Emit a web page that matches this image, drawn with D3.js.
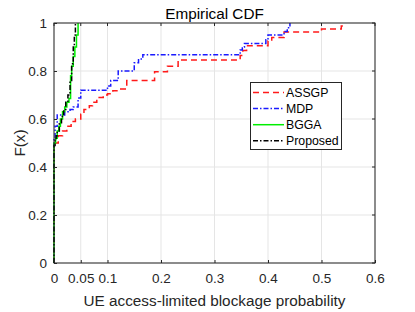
<!DOCTYPE html>
<html>
<head>
<meta charset="utf-8">
<script src="https://cdn.jsdelivr.net/npm/d3@7"></script>
<style>
  body { margin: 0; background: #fff; }
  svg { display: block; font-family: "Liberation Sans", Arial, sans-serif; }
</style>
</head>
<body>
<div id="chart"></div>
<script>
// empirical CDF steps (x = probability, F = cdf value)
const assgpX = [0, 0, 0.008, 0.016, 0.024, 0.032, 0.04, 0.05, 0.056, 0.066, 0.072, 0.08, 0.092, 0.1, 0.11, 0.12, 0.136, 0.188, 0.212, 0.232, 0.348, 0.353, 0.36, 0.4, 0.407, 0.43, 0.5, 0.537, 0.545];
const assgpF = [0, 0.5, 0.53, 0.55, 0.57, 0.59, 0.6, 0.62, 0.64, 0.655, 0.67, 0.69, 0.7, 0.705, 0.718, 0.725, 0.76, 0.797, 0.82, 0.846, 0.865, 0.885, 0.905, 0.925, 0.94, 0.962, 0.975, 0.988, 0.988];

const mdpX = [0, 0, 0.002, 0.006, 0.02, 0.03, 0.036, 0.045, 0.05, 0.088, 0.1, 0.106, 0.12, 0.15, 0.158, 0.166, 0.348, 0.352, 0.356, 0.396, 0.4, 0.43, 0.436, 0.441];
const mdpF = [0, 0.52, 0.57, 0.617, 0.63, 0.64, 0.65, 0.687, 0.72, 0.72, 0.737, 0.76, 0.8, 0.834, 0.85, 0.868, 0.888, 0.9, 0.915, 0.93, 0.95, 0.965, 0.98, 1.0];

const bggaX = [0, 0, 0.003, 0.006, 0.009, 0.012, 0.016, 0.02, 0.024, 0.028, 0.031, 0.033, 0.036, 0.039, 0.042, 0.045];
const bggaF = [0, 0.5, 0.52, 0.55, 0.57, 0.6, 0.63, 0.65, 0.67, 0.685, 0.78, 0.82, 0.86, 0.9, 0.95, 1.0];

const propX = [0, 0, 0.002, 0.004, 0.006, 0.01, 0.014, 0.018, 0.022, 0.026, 0.03, 0.033, 0.036, 0.038, 0.04];
const propF = [0, 0.49, 0.51, 0.53, 0.55, 0.58, 0.61, 0.64, 0.67, 0.7, 0.76, 0.83, 0.9, 0.95, 1.0];

const seriesNames = ["ASSGP", "MDP", "BGGA", "Proposed"];
const xTicks = [0, 0.05, 0.1, 0.2, 0.3, 0.4, 0.5, 0.6];
const yTicks = [0, 0.2, 0.4, 0.6, 0.8, 1];

const width = 415;
const height = 312;
const plotL = 54, plotR = 375, plotT = 23, plotB = 263;
const axisColor = "#262626";

const svg = d3.select("#chart")
              .append("svg")
              .attr("width", width)
              .attr("height", height);

const xScale = d3.scaleLinear().domain([0, 0.6]).range([plotL, plotR]);
const yScale = d3.scaleLinear().domain([0, 1]).range([plotB, plotT]);

// grid
svg.append("g")
   .selectAll("line")
   .data(xTicks)
   .enter().append("line")
   .attr("x1", d => xScale(d)).attr("x2", d => xScale(d))
   .attr("y1", plotT).attr("y2", plotB)
   .attr("stroke", "#e5e5e5").attr("stroke-width", 1);

svg.append("g")
   .selectAll("line")
   .data(yTicks)
   .enter().append("line")
   .attr("x1", plotL).attr("x2", plotR)
   .attr("y1", d => yScale(d)).attr("y2", d => yScale(d))
   .attr("stroke", "#e5e5e5").attr("stroke-width", 1);

// curves
const styles = [
  { xs: assgpX, fs: assgpF, color: "#ff1a1a", dash: "6,4" },
  { xs: mdpX, fs: mdpF, color: "#1a1aff", dash: "5,2,1.5,2" },
  { xs: bggaX, fs: bggaF, color: "#00ee00", dash: null },
  { xs: propX, fs: propF, color: "#000000", dash: "5,2,1.5,2" }
];

const line = d3.line()
               .x(d => xScale(d[0]))
               .y(d => yScale(d[1]))
               .curve(d3.curveStepAfter);

styles.forEach(function(s) {
  const pts = s.xs.map((x, i) => [x, s.fs[i]]);
  svg.append("path")
     .datum(pts)
     .attr("d", line)
     .attr("fill", "none")
     .attr("stroke", s.color)
     .attr("stroke-width", 1.5)
     .attr("stroke-dasharray", s.dash);
});

// axes
const xAxis = d3.axisBottom(xScale).tickValues(xTicks).tickFormat(d3.format("~g")).tickSizeInner(-3).tickSizeOuter(0).tickPadding(10);
const yAxis = d3.axisLeft(yScale).tickValues(yTicks).tickFormat(d3.format("~g")).tickSizeInner(-3).tickSizeOuter(0).tickPadding(7);

const gx = svg.append("g")
   .attr("transform", "translate(0," + plotB + ")")
   .call(xAxis);
const gy = svg.append("g")
   .attr("transform", "translate(" + plotL + ",0)")
   .call(yAxis);

[gx, gy].forEach(function(g) {
  g.select(".domain").remove();
  g.selectAll("line").attr("stroke", axisColor);
  g.selectAll("text")
   .attr("fill", axisColor)
   .style("font-size", "13.5px")
   .style("font-family", "'Liberation Sans', Arial, sans-serif");
});

// top / right ticks
svg.append("g").selectAll("line")
   .data(xTicks).enter().append("line")
   .attr("x1", d => xScale(d)).attr("x2", d => xScale(d))
   .attr("y1", plotT).attr("y2", plotT + 3)
   .attr("stroke", axisColor);
svg.append("g").selectAll("line")
   .data(yTicks).enter().append("line")
   .attr("x1", plotR).attr("x2", plotR - 3)
   .attr("y1", d => yScale(d)).attr("y2", d => yScale(d))
   .attr("stroke", axisColor);

// box
svg.append("rect")
   .attr("x", plotL).attr("y", plotT)
   .attr("width", plotR - plotL).attr("height", plotB - plotT)
   .attr("fill", "none")
   .attr("stroke", axisColor)
   .attr("stroke-width", 1);

// title and labels
svg.append("text")
   .attr("x", (plotL + plotR) / 2).attr("y", 18.5)
   .attr("text-anchor", "middle")
   .attr("fill", "#000")
   .style("font-size", "15.3px")
   .text("Empirical CDF");

svg.append("text")
   .attr("x", (plotL + plotR) / 2).attr("y", 306)
   .attr("text-anchor", "middle")
   .attr("fill", axisColor)
   .style("font-size", "15.3px")
   .text("UE access-limited blockage probability");

svg.append("text")
   .attr("transform", "translate(25," + ((plotT + plotB) / 2) + ") rotate(-90)")
   .attr("text-anchor", "middle")
   .attr("fill", axisColor)
   .style("font-size", "15.3px")
   .text("F(x)");

// legend
const legend = svg.append("g");
legend.append("rect")
      .attr("x", 250.5).attr("y", 82.5)
      .attr("width", 91).attr("height", 67)
      .attr("fill", "#fff")
      .attr("stroke", axisColor)
      .attr("stroke-width", 1);

seriesNames.forEach(function(name, i) {
  const yy = 92.5 + i * 16.1;
  legend.append("line")
        .attr("x1", 253).attr("x2", 284)
        .attr("y1", yy).attr("y2", yy)
        .attr("stroke", styles[i].color)
        .attr("stroke-width", 1.5)
        .attr("stroke-dasharray", styles[i].dash);
  legend.append("text")
        .attr("x", 286).attr("y", yy + 4.5)
        .attr("fill", "#000")
        .style("font-size", "12.3px")
        .text(name);
});
</script>
</body>
</html>
